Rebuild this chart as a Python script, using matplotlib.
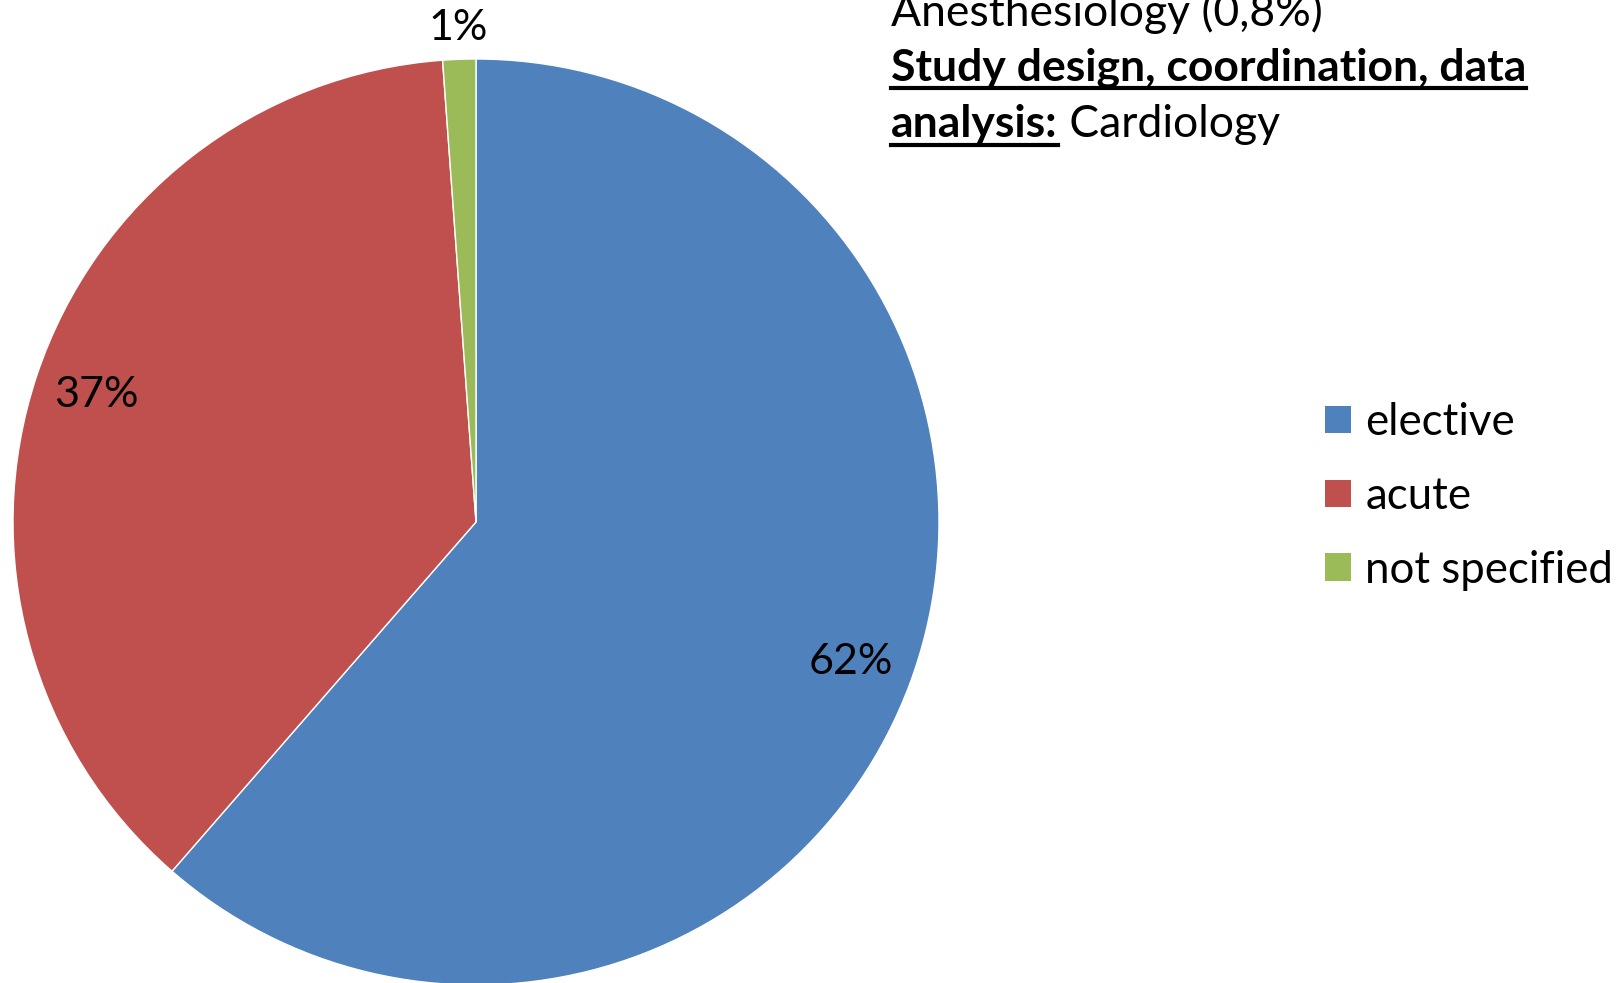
import matplotlib
matplotlib.use("Agg")
import matplotlib.pyplot as plt
import numpy as np
from matplotlib.lines import Line2D
from matplotlib.patches import Patch

plt.rcParams["font.family"] = ["Lato", "DejaVu Sans"]

# Admission type shares (%)
categories = ["elective", "acute", "not specified"]
shares = [61.4, 37.45, 1.15]
pct_labels = ["62%", "37%", "1%"]
colors = ["#4F81BD", "#C0504D", "#9BBB59"]

note_line1 = "Anesthesiology (0,8%)"
note_bold2 = "Study design, coordination, data"
note_bold3 = "analysis:"
note_rest3 = " Cardiology"

W, H, DPI = 1623, 983, 100
fig = plt.figure(figsize=(W / DPI, H / DPI), dpi=DPI)
R_PX = 463
ax = fig.add_axes([13 / W, (H - 59 - 2 * R_PX) / H, 2 * R_PX / W, 2 * R_PX / H])

wedges, _ = ax.pie(shares, colors=colors, startangle=90, counterclock=False,
                   radius=1.0, center=(0, 0), frame=True,
                   wedgeprops=dict(edgecolor="white", linewidth=1))
ax.set_xlim(-1, 1)
ax.set_ylim(-1, 1)
ax.set_aspect("equal")
ax.axis("off")

# percentage labels (inside for big slices, outside for the tiny one)
for w, lab, val in zip(wedges, pct_labels, shares):
    mid = np.deg2rad((w.theta1 + w.theta2) / 2)
    r = 0.865 if val > 5 else 1.068
    ax.text(r * np.cos(mid), r * np.sin(mid), lab, ha="center", va="center",
            fontsize=31, color="black")

# legend
handles = [Patch(facecolor=c, edgecolor="none") for c in colors]
fig.legend(handles, categories, loc="upper left", bbox_to_anchor=(1325 / W, 1 - 402 / H),
           frameon=False, fontsize=31.5, handlelength=0.6, handleheight=0.6,
           handletextpad=0.32, labelspacing=0.75, borderaxespad=0, borderpad=0)

# note text in the upper right, bold parts underlined
x0 = 891
fs = 32
fig.text(x0 / W, 1 - 26 / H, note_line1, fontsize=fs, va="baseline")
t2 = fig.text(x0 / W, 1 - 80 / H, note_bold2, fontsize=fs, fontweight="bold", va="baseline")
t3 = fig.text(x0 / W, 1 - 137 / H, note_bold3, fontsize=fs, fontweight="bold", va="baseline")
fig.canvas.draw()
renderer = fig.canvas.get_renderer()
for t, base in [(t2, 80), (t3, 137)]:
    bb = t.get_window_extent(renderer)
    yl = 1 - (base + 8) / H
    fig.add_artist(Line2D([bb.x0 / W, bb.x1 / W], [yl, yl], color="black",
                          linewidth=3, transform=fig.transFigure))
bb3 = t3.get_window_extent(renderer)
fig.text(bb3.x1 / W, 1 - 137 / H, note_rest3, fontsize=fs, va="baseline")

fig.savefig("out.png", dpi=DPI)
